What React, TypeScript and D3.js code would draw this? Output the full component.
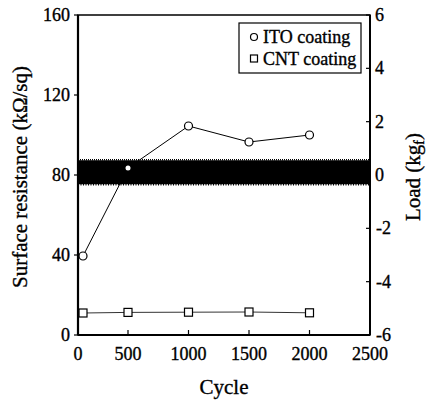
import React from "react";
import * as d3 from "d3";

const cyclesITO = [50, 500, 1000, 1500, 2000];
const resistanceITO = [39.5, 83.5, 104.5, 96.5, 100];
const cyclesCNT = [50, 500, 1000, 1500, 2000];
const resistanceCNT = [11, 11.3, 11.4, 11.5, 11.1];
const loadCycles = [0, 2500];
const loadMax = [0.55, 0.55];
const loadMin = [-0.35, -0.35];
const xTicks = [0, 500, 1000, 1500, 2000, 2500];
const yLeftTicks = [0, 40, 80, 120, 160];
const yRightTicks = [-6, -4, -2, 0, 2, 4, 6];
const legendLabels = ["ITO coating", "CNT coating"];

const FONT = "Liberation Serif, Times New Roman, Times, DejaVu Serif, serif";

export default function App() {
  const left = 78, right = 370, top = 15, bottom = 335;
  const x = d3.scaleLinear().domain([0, 500, 2500]).range([left, 128, right]);
  const y = d3.scaleLinear().domain([0, 160]).range([bottom, top]);
  const yR = d3.scaleLinear().domain([-6, 6]).range([bottom, top]);

  const itoPath = d3
    .line<[number, number]>()
    .x((d) => x(d[0]))
    .y((d) => y(d[1]))(cyclesITO.map((c, i) => [c, resistanceITO[i]]));
  const cntPath = d3
    .line<[number, number]>()
    .x((d) => x(d[0]))
    .y((d) => y(d[1]))(cyclesCNT.map((c, i) => [c, resistanceCNT[i]]));
  const band = d3
    .area<number>()
    .x((c) => x(c))
    .y0((_, i) => yR(loadMin[i]))
    .y1((_, i) => yR(loadMax[i]))(loadCycles);
  const bandTop = d3
    .line<number>()
    .x((c) => x(c))
    .y((_, i) => yR(loadMax[i]) - 0.5)(loadCycles);
  const bandBot = d3
    .line<number>()
    .x((c) => x(c))
    .y((_, i) => yR(loadMin[i]) + 0.5)(loadCycles);

  const sq = 8;
  const ts = { fontFamily: FONT, stroke: "#000", strokeWidth: 0.35 } as React.CSSProperties;
  return (
    <svg
      width={430}
      height={403}
      style={{ position: "fixed", left: 0, top: 0, background: "#fff", fontFamily: FONT }}
    >
      {/* series lines */}
      <path d={itoPath || ""} fill="none" stroke="#000" strokeWidth={1} />
      <path d={cntPath || ""} fill="none" stroke="#333" strokeWidth={1} />
      {cyclesITO.map((c, i) =>
        i === 1 ? null : (
          <circle key={"o" + i} cx={x(c)} cy={y(resistanceITO[i])} r={4} fill="#fff" stroke="#000" strokeWidth={1.2} />
        )
      )}
      {cyclesCNT.map((c, i) => (
        <rect
          key={"s" + i}
          x={x(c) - sq / 2}
          y={y(resistanceCNT[i]) - sq / 2}
          width={sq}
          height={sq}
          fill="#fff"
          stroke="#000"
          strokeWidth={1.2}
        />
      ))}
      {/* load band */}
      <path d={band || ""} fill="#000" />
      <path d={bandTop || ""} fill="none" stroke="#000" strokeWidth={1.5} strokeDasharray="1,1" />
      <path d={bandBot || ""} fill="none" stroke="#000" strokeWidth={1.5} strokeDasharray="1,1.5" />
      <circle cx={x(cyclesITO[1])} cy={y(resistanceITO[1])} r={2.5} fill="#fff" />

      {/* frame */}
      <rect x={left} y={top} width={right - left} height={bottom - top} fill="none" stroke="#000" strokeWidth={1.5} />
      <line x1={left} x2={left} y1={top} y2={bottom} stroke="#000" strokeWidth={2.2} />
      <line x1={left} x2={right} y1={bottom} y2={bottom} stroke="#000" strokeWidth={2.2} />
      <line x1={right} x2={right} y1={top} y2={bottom} stroke="#000" strokeWidth={2} />

      {/* x ticks */}
      {xTicks.map((t) => (
        <g key={"x" + t}>
          <line x1={x(t)} x2={x(t)} y1={bottom} y2={bottom - 5} stroke="#000" strokeWidth={1.2} />
          <text x={x(t)} y={360} textAnchor="middle" fontSize={18} style={ts}>
            {t}
          </text>
        </g>
      ))}
      {/* left ticks */}
      {yLeftTicks.map((t) => (
        <g key={"yl" + t}>
          <line x1={left - 4} x2={left} y1={y(t)} y2={y(t)} stroke="#000" strokeWidth={1.2} />
          <text x={70} y={y(t) + 6} textAnchor="end" fontSize={18} style={ts}>
            {t}
          </text>
        </g>
      ))}
      {/* right ticks */}
      {yRightTicks.map((t) => (
        <g key={"yr" + t}>
          <line x1={right - 4} x2={right} y1={yR(t)} y2={yR(t)} stroke="#000" strokeWidth={1.2} />
          <text x={t < 0 ? 376 : 375} y={yR(t) + 6} textAnchor="start" fontSize={18} style={ts}>
            {t}
          </text>
        </g>
      ))}

      {/* legend */}
      <rect x={239} y={23} width={122} height={50} fill="#fff" stroke="#000" strokeWidth={1.2} />
      <circle cx={254} cy={37} r={3.5} fill="#fff" stroke="#000" strokeWidth={1.2} />
      <text x={263} y={43} fontSize={18} style={ts}>
        {legendLabels[0]}
      </text>
      <rect x={250.5} y={55} width={7} height={7} fill="#fff" stroke="#000" strokeWidth={1.2} />
      <text x={263} y={65} fontSize={18} style={ts}>
        {legendLabels[1]}
      </text>

      {/* axis labels */}
      <text x={224} y={394} textAnchor="middle" fontSize={21} style={ts}>
        Cycle
      </text>
      <text transform="translate(27,177) rotate(-90)" textAnchor="middle" fontSize={21} style={ts}>
        Surface resistance (kΩ/sq)
      </text>
      <text transform="translate(420,177) rotate(-90)" textAnchor="middle" fontSize={21} style={ts}>
        Load (kg
        <tspan fontSize={14} dy={4}>
          f
        </tspan>
        <tspan dy={-4}>)</tspan>
      </text>
    </svg>
  );
}
